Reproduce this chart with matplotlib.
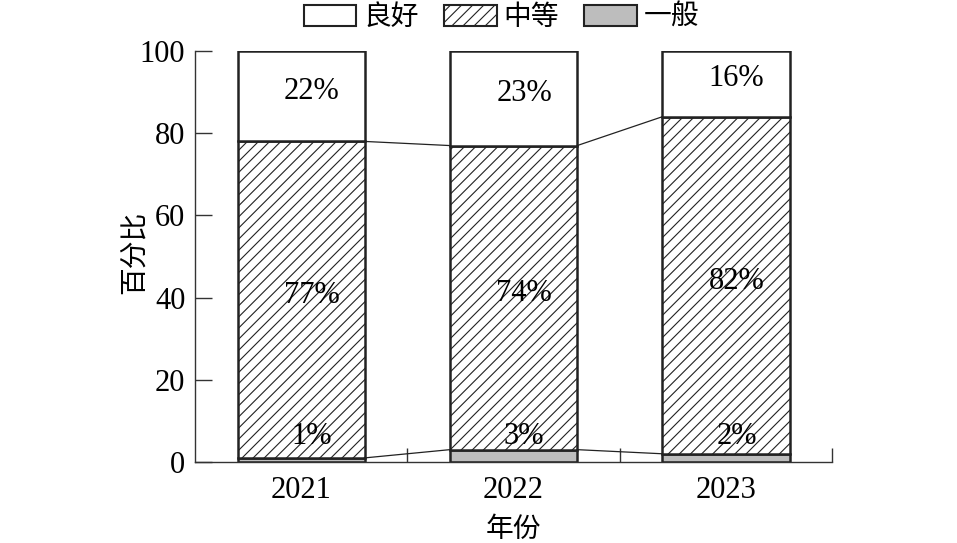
import numpy as np
import matplotlib
matplotlib.use("Agg")
import matplotlib.pyplot as plt
from matplotlib.patches import Patch

plt.rcParams['font.family'] = ['Liberation Serif', 'Noto Sans CJK SC']
plt.rcParams['hatch.linewidth'] = 0.8
plt.rcParams['hatch.color'] = '#222222'

years = ['2021', '2022', '2023']
yiban = [1, 3, 2]        # 一般
zhongdeng = [77, 74, 82]  # 中等
lianghao = [22, 23, 16]   # 良好

edge = '#222222'
fs_num = 22   # digits
fs_cn = 20    # chinese text

fig = plt.figure(figsize=(9.57, 5.43), dpi=100)
ax = fig.add_axes([0.2038, 0.1492, 0.6656, 0.7568])

x = np.arange(len(years))
w = 0.6
low = np.array(yiban)
mid = low + np.array(zhongdeng)
top = np.full(len(years), 100)

ax.bar(x, yiban, w, color='#bdbdbd', edgecolor=edge, linewidth=1.8)
ax.bar(x, zhongdeng, w, bottom=low, color='white', edgecolor=edge,
       linewidth=1.8, hatch='///')
ax.bar(x, top - mid, w, bottom=mid, color='white', edgecolor=edge, linewidth=1.8)

# connecting lines between bars
for i in range(len(years) - 1):
    for b in (low, mid):
        ax.plot([x[i] + w / 2, x[i + 1] - w / 2], [b[i], b[i + 1]],
                color=edge, lw=0.9)

# labels
for i in range(len(years)):
    ax.text(x[i] + 0.05, 6.3, f'{yiban[i]}%', ha='center', va='center', fontsize=fs_num)
    ax.text(x[i] + 0.05, (low[i] + mid[i]) / 2 + 1.0, f'{zhongdeng[i]}%',
            ha='center', va='center', fontsize=fs_num)
    ax.text(x[i] + 0.05, (mid[i] + 100) / 2 + 1.2, f'{lianghao[i]}%',
            ha='center', va='center', fontsize=fs_num)

ax.set_xlim(-0.5, 2.5)
ax.set_ylim(0, 100)
ax.set_yticks([0, 20, 40, 60, 80, 100])
ax.set_xticks(x)
ax.set_xticklabels(years)
ax.set_xticks([0.5, 1.5, 2.5], minor=True)
ax.tick_params(axis='x', which='major', length=0, pad=10, labelsize=fs_num)
ax.tick_params(axis='x', which='minor', direction='in', length=10, width=1, color='#333333')
ax.tick_params(axis='y', direction='in', length=12, width=1, color='#333333',
               labelsize=fs_num, pad=7)
for s in ('top', 'right'):
    ax.spines[s].set_visible(False)
for s in ('left', 'bottom'):
    ax.spines[s].set_color('#333333')
    ax.spines[s].set_linewidth(1)

ax.set_xlabel('年份', fontsize=fs_cn, labelpad=9)
ax.set_ylabel('百分比', fontsize=fs_cn)
ax.yaxis.set_label_coords(-0.074, 0.51)

handles = [Patch(facecolor='white', edgecolor=edge, linewidth=1.5, label='良好'),
           Patch(facecolor='white', edgecolor=edge, linewidth=1.5, hatch='///', label='中等'),
           Patch(facecolor='#bdbdbd', edgecolor=edge, linewidth=1.5, label='一般')]
fig.legend(handles=handles, loc='center', bbox_to_anchor=(0.524, 0.967), ncol=3,
           frameon=False, fontsize=fs_cn, handlelength=1.9, handleheight=0.8,
           handletextpad=0.25, columnspacing=0.9, borderaxespad=0, borderpad=0)

fig.savefig('out.png', dpi=100)
